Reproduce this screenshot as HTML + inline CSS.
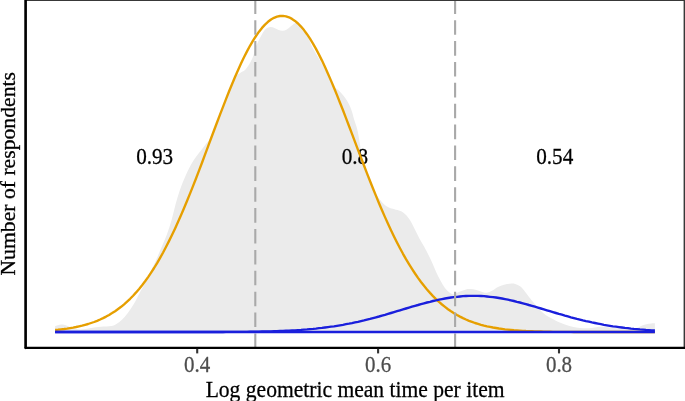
<!DOCTYPE html>
<html><head><meta charset="utf-8"><title>Mixture plot</title>
<style>
html,body{margin:0;padding:0;background:#fff;}
svg{display:block;}
text{font-family:"Liberation Serif","Times New Roman",serif;font-size:21.5px;}
</style></head>
<body>
<svg width="685" height="401" viewBox="0 0 685 401">
<rect x="0" y="0" width="685" height="401" fill="#ffffff"/>
<path d="M55.10,325.90 C56.12,325.65 59.33,324.48 61.20,324.40 C63.07,324.32 64.42,324.80 66.30,325.40 C68.18,326.00 70.10,327.32 72.50,328.00 C74.90,328.68 77.63,329.50 80.70,329.50 C83.77,329.50 87.50,328.47 90.90,328.00 C94.30,327.53 97.70,327.05 101.10,326.70 C104.50,326.35 108.75,326.37 111.30,325.90 C113.85,325.43 114.63,324.93 116.40,323.90 C118.17,322.87 120.00,321.53 121.90,319.70 C123.80,317.87 125.82,315.52 127.80,312.90 C129.78,310.28 131.80,307.37 133.80,304.00 C135.80,300.63 137.80,296.45 139.80,292.70 C141.80,288.95 143.12,286.88 145.80,281.50 C148.48,276.12 153.47,265.65 155.90,260.40 C158.33,255.15 158.60,254.23 160.40,250.00 C162.20,245.77 164.83,240.00 166.70,235.00 C168.57,230.00 170.15,225.00 171.60,220.00 C173.05,215.00 174.02,210.00 175.40,205.00 C176.78,200.00 178.15,195.00 179.90,190.00 C181.65,185.00 183.58,180.00 185.90,175.00 C188.22,170.00 190.58,165.00 193.80,160.00 C197.02,155.00 202.05,149.27 205.20,145.00 C208.35,140.73 210.40,139.23 212.70,134.40 C215.00,129.57 216.88,121.90 219.00,116.00 C221.12,110.10 223.40,104.00 225.40,99.00 C227.40,94.00 229.17,89.83 231.00,86.00 C232.83,82.17 234.82,78.22 236.40,76.00 C237.98,73.78 239.07,73.70 240.50,72.70 C241.93,71.70 243.37,71.70 245.00,70.00 C246.63,68.30 248.87,65.00 250.30,62.50 C251.73,60.00 252.73,57.42 253.60,55.00 C254.47,52.58 254.90,49.88 255.50,48.00 C256.10,46.12 256.42,45.43 257.20,43.70 C257.98,41.97 259.18,39.55 260.20,37.60 C261.22,35.65 262.28,33.53 263.30,32.00 C264.32,30.47 265.12,29.25 266.30,28.40 C267.48,27.55 269.03,26.98 270.40,26.90 C271.77,26.82 273.13,27.40 274.50,27.90 C275.87,28.40 277.23,29.43 278.60,29.90 C279.97,30.37 281.33,30.78 282.70,30.70 C284.07,30.62 285.43,30.13 286.80,29.40 C288.17,28.67 289.72,27.23 290.90,26.30 C292.08,25.37 292.88,24.43 293.90,23.80 C294.92,23.17 295.98,22.55 297.00,22.50 C298.02,22.45 298.83,22.42 300.00,23.50 C301.17,24.58 302.67,26.83 304.00,29.00 C305.33,31.17 306.78,33.85 308.00,36.50 C309.22,39.15 309.83,41.82 311.30,44.90 C312.77,47.98 315.00,51.82 316.80,55.00 C318.60,58.18 320.18,60.58 322.10,64.00 C324.02,67.42 326.48,71.83 328.30,75.50 C330.12,79.17 331.35,83.58 333.00,86.00 C334.65,88.42 336.22,88.10 338.20,90.00 C340.18,91.90 343.03,94.92 344.90,97.40 C346.77,99.88 348.18,102.40 349.40,104.90 C350.62,107.40 351.38,109.88 352.20,112.40 C353.02,114.92 353.43,117.07 354.30,120.00 C355.17,122.93 356.43,125.83 357.40,130.00 C358.37,134.17 359.42,140.77 360.10,145.00 C360.78,149.23 360.68,151.90 361.50,155.40 C362.32,158.90 363.58,161.90 365.00,166.00 C366.42,170.10 368.08,175.25 370.00,180.00 C371.92,184.75 374.42,190.72 376.50,194.50 C378.58,198.28 380.52,200.58 382.50,202.70 C384.48,204.82 386.42,206.12 388.40,207.20 C390.38,208.28 392.40,208.57 394.40,209.20 C396.40,209.83 398.65,210.20 400.40,211.00 C402.15,211.80 403.40,212.63 404.90,214.00 C406.40,215.37 407.90,216.97 409.40,219.20 C410.90,221.43 412.40,224.53 413.90,227.40 C415.40,230.27 416.90,233.53 418.40,236.40 C419.90,239.27 421.60,242.25 422.90,244.60 C424.20,246.95 424.78,247.77 426.20,250.50 C427.62,253.23 429.78,257.52 431.40,261.00 C433.02,264.48 434.40,268.17 435.90,271.40 C437.40,274.63 438.90,277.65 440.40,280.40 C441.90,283.15 443.40,285.90 444.90,287.90 C446.40,289.90 447.90,291.35 449.40,292.40 C450.90,293.45 452.15,294.33 453.90,294.20 C455.65,294.07 457.90,292.40 459.90,291.60 C461.90,290.80 464.15,289.82 465.90,289.40 C467.65,288.98 468.67,288.98 470.40,289.10 C472.13,289.22 474.32,289.60 476.30,290.10 C478.28,290.60 480.60,291.67 482.30,292.10 C484.00,292.53 484.82,292.98 486.50,292.70 C488.18,292.42 490.48,291.37 492.40,290.40 C494.32,289.43 496.07,287.85 498.00,286.90 C499.93,285.95 502.00,285.23 504.00,284.70 C506.00,284.17 508.13,283.82 510.00,283.70 C511.87,283.58 513.47,283.53 515.20,284.00 C516.93,284.47 518.78,285.27 520.40,286.50 C522.02,287.73 523.40,289.58 524.90,291.40 C526.40,293.22 527.90,295.48 529.40,297.40 C530.90,299.32 532.15,300.78 533.90,302.90 C535.65,305.02 537.90,308.05 539.90,310.10 C541.90,312.15 543.90,313.78 545.90,315.20 C547.90,316.62 549.98,317.53 551.90,318.60 C553.82,319.67 555.23,320.60 557.40,321.60 C559.57,322.60 562.40,323.75 564.90,324.60 C567.40,325.45 569.90,326.15 572.40,326.70 C574.90,327.25 577.40,327.65 579.90,327.90 C582.40,328.15 584.90,328.28 587.40,328.20 C589.90,328.12 592.77,327.63 594.90,327.40 C597.03,327.17 597.62,326.80 600.20,326.80 C602.78,326.80 607.10,327.15 610.40,327.40 C613.70,327.65 616.73,328.10 620.00,328.30 C623.27,328.50 627.17,328.63 630.00,328.60 C632.83,328.57 635.15,328.52 637.00,328.10 C638.85,327.68 639.57,326.73 641.10,326.10 C642.63,325.47 644.50,324.73 646.20,324.30 C647.90,323.87 649.85,323.67 651.30,323.50 C652.75,323.33 654.30,323.33 654.90,323.30 L654.9,332.05 L55.1,332.05 Z" fill="#ebebeb" stroke="none"/>
<text transform="translate(154.65,163.8) scale(0.985,1.1)" text-anchor="middle" fill="#000" stroke="#000" stroke-width="0.25">0.93</text>
<text transform="translate(354.95,163.9) scale(0.985,1.1)" text-anchor="middle" fill="#000" stroke="#000" stroke-width="0.25">0.8</text>
<text transform="translate(554.75,163.7) scale(0.985,1.1)" text-anchor="middle" fill="#000" stroke="#000" stroke-width="0.25">0.54</text>
<path d="M55.1,330.0 L58.1,329.7 L61.1,329.3 L64.1,329.0 L67.1,328.6 L70.1,328.1 L73.1,327.6 L76.1,327.0 L79.1,326.3 L82.1,325.6 L85.1,324.8 L88.1,324.0 L91.1,323.0 L94.1,322.0 L97.1,320.8 L100.1,319.5 L103.1,318.1 L106.1,316.6 L109.1,314.9 L112.1,313.1 L115.1,311.2 L118.1,309.0 L121.1,306.8 L124.1,304.3 L127.1,301.6 L130.1,298.8 L133.1,295.7 L136.1,292.4 L139.1,288.9 L142.1,285.2 L145.1,281.3 L148.1,277.1 L151.1,272.6 L154.1,268.0 L157.1,263.1 L160.1,257.9 L163.1,252.5 L166.1,246.8 L169.1,240.9 L172.1,234.8 L175.1,228.4 L178.1,221.8 L181.1,215.0 L184.1,208.0 L187.1,200.8 L190.1,193.4 L193.1,185.9 L196.1,178.2 L199.1,170.4 L202.1,162.5 L205.0,154.6 L208.0,146.6 L211.0,138.5 L214.0,130.5 L217.0,122.5 L220.0,114.6 L223.0,106.8 L226.0,99.1 L229.0,91.5 L232.0,84.2 L235.0,77.0 L238.0,70.2 L241.0,63.6 L244.0,57.3 L247.0,51.4 L250.0,45.8 L253.0,40.7 L256.0,36.0 L259.0,31.7 L262.0,27.9 L265.0,24.6 L268.0,21.8 L271.0,19.5 L274.0,17.8 L277.0,16.6 L280.0,16.0 L283.0,15.9 L286.0,16.3 L289.0,17.3 L292.0,18.9 L295.0,20.9 L298.0,23.5 L301.0,26.6 L304.0,30.1 L307.0,34.2 L310.0,38.7 L313.0,43.6 L316.0,48.9 L319.0,54.6 L322.0,60.6 L325.0,67.0 L328.0,73.7 L331.0,80.6 L334.0,87.8 L337.0,95.1 L340.0,102.7 L343.0,110.3 L346.0,118.1 L349.0,126.0 L352.0,133.9 L355.0,141.9 L358.0,149.8 L361.0,157.7 L364.0,165.5 L367.0,173.3 L370.0,181.0 L373.0,188.5 L376.0,195.9 L379.0,203.2 L382.0,210.2 L385.0,217.1 L388.0,223.8 L391.0,230.2 L394.0,236.5 L397.0,242.5 L400.0,248.2 L403.0,253.8 L406.0,259.1 L409.0,264.1 L412.0,268.9 L415.0,273.5 L418.0,277.9 L421.0,282.0 L424.0,285.8 L427.0,289.5 L430.0,292.9 L433.0,296.1 L436.0,299.1 L439.0,301.9 L442.0,304.5 L445.0,306.9 L448.0,309.2 L451.0,311.3 L454.0,313.2 L457.0,315.0 L460.0,316.6 L463.0,318.1 L466.0,319.5 L469.0,320.8 L472.0,321.9 L475.0,323.0 L478.0,323.9 L481.0,324.8 L484.0,325.6 L487.0,326.3 L490.0,326.9 L493.0,327.5 L496.0,328.0 L499.0,328.5 L502.0,328.9 L505.0,329.3 L507.9,329.6 L510.9,329.9 L513.9,330.2 L516.9,330.4 L519.9,330.6 L522.9,330.8 L525.9,331.0 L528.9,331.1 L531.9,331.2 L534.9,331.3 L537.9,331.4 L540.9,331.5 L543.9,331.6 L546.9,331.7 L549.9,331.7 L552.9,331.8 L555.9,331.8 L558.9,331.8 L561.9,331.9 L564.9,331.9 L567.9,331.9 L570.9,331.9 L573.9,332.0 L576.9,332.0 L579.9,332.0 L582.9,332.0 L585.9,332.0 L588.9,332.0 L591.9,332.0 L594.9,332.0 L597.9,332.0 L600.9,332.0 L603.9,332.0 L606.9,332.0 L609.9,332.0 L612.9,332.0 L615.9,332.0 L618.9,332.0 L621.9,332.0 L624.9,332.0 L627.9,332.0 L630.9,332.0 L633.9,332.0 L636.9,332.0 L639.9,332.0 L642.9,332.0 L645.9,332.0 L648.9,332.0 L651.9,332.0 L654.9,332.0" fill="none" stroke="#e69f00" stroke-width="2.35" stroke-linejoin="round"/>
<path d="M55.1,332.0 L58.1,332.0 L61.1,332.0 L64.1,332.0 L67.1,332.0 L70.1,332.0 L73.1,332.0 L76.1,332.0 L79.1,332.0 L82.1,332.0 L85.1,332.0 L88.1,332.0 L91.1,332.0 L94.1,332.0 L97.1,332.0 L100.1,332.0 L103.1,332.0 L106.1,332.0 L109.1,332.0 L112.1,332.0 L115.1,332.0 L118.1,332.0 L121.1,332.0 L124.1,332.0 L127.1,332.0 L130.1,332.0 L133.1,332.0 L136.1,332.0 L139.1,332.0 L142.1,332.0 L145.1,332.0 L148.1,332.0 L151.1,332.0 L154.1,332.0 L157.1,332.0 L160.1,332.0 L163.1,332.0 L166.1,332.0 L169.1,332.0 L172.1,332.0 L175.1,332.0 L178.1,332.0 L181.1,332.0 L184.1,332.0 L187.1,332.0 L190.1,332.0 L193.1,332.0 L196.1,332.0 L199.1,332.0 L202.1,332.0 L205.0,332.0 L208.0,332.0 L211.0,332.0 L214.0,332.0 L217.0,332.0 L220.0,332.0 L223.0,332.0 L226.0,331.9 L229.0,331.9 L232.0,331.9 L235.0,331.9 L238.0,331.9 L241.0,331.8 L244.0,331.8 L247.0,331.8 L250.0,331.7 L253.0,331.7 L256.0,331.6 L259.0,331.6 L262.0,331.5 L265.0,331.5 L268.0,331.4 L271.0,331.3 L274.0,331.2 L277.0,331.1 L280.0,331.0 L283.0,330.9 L286.0,330.7 L289.0,330.6 L292.0,330.4 L295.0,330.3 L298.0,330.1 L301.0,329.9 L304.0,329.6 L307.0,329.4 L310.0,329.1 L313.0,328.9 L316.0,328.6 L319.0,328.2 L322.0,327.9 L325.0,327.5 L328.0,327.1 L331.0,326.7 L334.0,326.3 L337.0,325.8 L340.0,325.3 L343.0,324.8 L346.0,324.2 L349.0,323.7 L352.0,323.1 L355.0,322.4 L358.0,321.8 L361.0,321.1 L364.0,320.4 L367.0,319.6 L370.0,318.9 L373.0,318.1 L376.0,317.3 L379.0,316.5 L382.0,315.6 L385.0,314.8 L388.0,313.9 L391.0,313.0 L394.0,312.1 L397.0,311.2 L400.0,310.3 L403.0,309.4 L406.0,308.5 L409.0,307.6 L412.0,306.7 L415.0,305.8 L418.0,305.0 L421.0,304.1 L424.0,303.3 L427.0,302.5 L430.0,301.8 L433.0,301.0 L436.0,300.4 L439.0,299.7 L442.0,299.1 L445.0,298.5 L448.0,298.0 L451.0,297.5 L454.0,297.1 L457.0,296.8 L460.0,296.5 L463.0,296.2 L466.0,296.0 L469.0,295.9 L472.0,295.9 L475.0,295.9 L478.0,295.9 L481.0,296.0 L484.0,296.2 L487.0,296.5 L490.0,296.8 L493.0,297.1 L496.0,297.5 L499.0,298.0 L502.0,298.5 L505.0,299.1 L507.9,299.7 L510.9,300.3 L513.9,301.0 L516.9,301.8 L519.9,302.5 L522.9,303.3 L525.9,304.1 L528.9,305.0 L531.9,305.8 L534.9,306.7 L537.9,307.6 L540.9,308.5 L543.9,309.4 L546.9,310.3 L549.9,311.2 L552.9,312.1 L555.9,313.0 L558.9,313.9 L561.9,314.7 L564.9,315.6 L567.9,316.4 L570.9,317.3 L573.9,318.1 L576.9,318.9 L579.9,319.6 L582.9,320.4 L585.9,321.1 L588.9,321.7 L591.9,322.4 L594.9,323.0 L597.9,323.6 L600.9,324.2 L603.9,324.8 L606.9,325.3 L609.9,325.8 L612.9,326.3 L615.9,326.7 L618.9,327.1 L621.9,327.5 L624.9,327.9 L627.9,328.2 L630.9,328.6 L633.9,328.9 L636.9,329.1 L639.9,329.4 L642.9,329.6 L645.9,329.9 L648.9,330.1 L651.9,330.3 L654.9,330.4" fill="none" stroke="#1a1fdc" stroke-width="2.35" stroke-linejoin="round"/>
<line x1="255.3" y1="348.0" x2="255.3" y2="0" stroke="#a9a9a9" stroke-width="2.1" stroke-dasharray="14.6 6.28"/>
<line x1="455.1" y1="348.0" x2="455.1" y2="0" stroke="#a9a9a9" stroke-width="2.1" stroke-dasharray="14.6 6.28"/>
<line x1="55.1" y1="332.05" x2="654.9" y2="332.05" stroke="#1a1fdc" stroke-width="2.4"/>
<line x1="25.6" y1="0" x2="686" y2="0" stroke="#383838" stroke-width="2.1"/>
<line x1="684.65" y1="0" x2="684.65" y2="347.85" stroke="#383838" stroke-width="2.1"/>
<line x1="25.6" y1="-2" x2="25.6" y2="347.85" stroke="#000" stroke-width="2.65" stroke-linecap="round"/>
<line x1="25.6" y1="347.8" x2="686" y2="347.8" stroke="#000" stroke-width="2.2" stroke-linecap="round"/>
<g stroke="#333" stroke-width="2.1">
<line x1="197.2" y1="348.8" x2="197.2" y2="353.4"/>
<line x1="378.1" y1="348.8" x2="378.1" y2="353.4"/>
<line x1="559.0" y1="348.8" x2="559.0" y2="353.4"/>
</g>
<text transform="translate(197.2,371.8) scale(0.975,1.1)" text-anchor="middle" fill="#4d4d4d" stroke="#4d4d4d" stroke-width="0.25">0.4</text>
<text transform="translate(378.1,371.8) scale(0.975,1.1)" text-anchor="middle" fill="#4d4d4d" stroke="#4d4d4d" stroke-width="0.25">0.6</text>
<text transform="translate(559.0,371.8) scale(0.975,1.1)" text-anchor="middle" fill="#4d4d4d" stroke="#4d4d4d" stroke-width="0.25">0.8</text>
<text transform="translate(355.1,396.5) scale(1.004,1.1)" text-anchor="middle" fill="#000" stroke="#000" stroke-width="0.25">Log geometric mean time per item</text>
<text transform="translate(15.2,173.8) rotate(-90)" text-anchor="middle" fill="#000" stroke="#000" stroke-width="0.3" style="font-size:21.7px">Number of respondents</text>
</svg>
</body></html>
